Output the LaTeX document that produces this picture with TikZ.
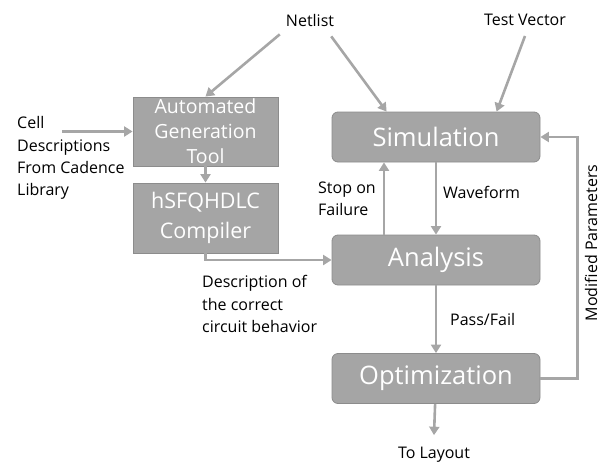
\documentclass[tikz,border=0pt]{standalone}
\usepackage{fontspec}
\setmainfont{Open Sans}
\usetikzlibrary{arrows.meta,calc}
\definecolor{boxfill}{HTML}{A5A5A5}
\definecolor{boxedge}{HTML}{8C8C8C}
\definecolor{arr}{HTML}{A6A6A6}
\begin{document}
\begin{tikzpicture}[x=1pt,y=-1pt,
 conn/.style={draw=arr,line width=2.6pt,-{Triangle[width=10pt,length=8.5pt]}},
 rbox/.style={fill=boxfill,draw=boxedge,line width=0.8pt,rounded corners=6pt,text=white,font=\fontsize{25.5}{28}\selectfont,minimum width=208pt,minimum height=50pt,inner sep=0},
 sbox/.style={fill=boxfill,draw=boxedge,line width=0.8pt,text=white,minimum width=145pt,inner sep=0,align=center},
 lbl/.style={font=\fontsize{16}{22.3}\selectfont,text=black,inner sep=0,align=left},
]
\useasboundingbox (0,0) rectangle (608,466);
\node[rbox] (sim) at (436,137) {Simulation};
\node[rbox] (ana) at (436,260) {Analysis};
\node[rbox] (opt) at (436,378.5) {Optimization};
\node[sbox,minimum height=69pt,font=\fontsize{19.5}{25}\selectfont] (agt) at (205.5,131.5) {Automated\\Generation\\Tool};
\node[sbox,minimum height=70pt,font=\fontsize{21.5}{30}\selectfont] (hsf) at (205.5,218) {hSFQHDLC\\Compiler};
\node[lbl] (net) at (310,20) {Netlist};
\node[lbl] (tv) at (525,20) {Test Vector};
\node[lbl,anchor=north west] (cell) at (17,116.5) {Cell\\Descriptions\\From Cadence\\Library};
\node[lbl,anchor=north west] (stop) at (318,181.5) {Stop on\\Failure};
\node[lbl,anchor=west] (wave) at (443,192) {Waveform};
\node[lbl,anchor=west] (pf) at (450,319) {Pass/Fail};
\node[lbl,anchor=north west] (desc) at (202,275.5) {Description of\\the correct\\circuit behavior};
\node[lbl] (lay) at (434,455) {To Layout};
\node[lbl,rotate=90] (mod) at (591,243) {Modified Parameters};

\draw[conn] ([shift={(-6,8)}]net.south west) -- (agt.north);
\draw[conn] ([shift={(-3,10)}]net.south east) -- ([shift={(55,0)}]sim.north west);
\draw[conn] ([shift={(0,10)}]tv.south) -- ([shift={(165,0)}]sim.north west);
\draw[conn] ($(cell.west |- agt.west)+(45,0)$) -- (agt.west);
\draw[conn] (agt) -- (hsf);
\draw[conn] (hsf.south) |- (ana.west);
\draw[conn] ([xshift=-52pt]ana.north) -- ([xshift=-52pt]sim.south);
\draw[conn] (sim) -- (ana);
\draw[conn] (ana) -- (opt);
\draw[conn] (opt) -- ([shift={(0,-12)}]lay.north);
\draw[conn] (opt.east) -- ++(37,0) |- (sim.east);
\end{tikzpicture}
\end{document}
